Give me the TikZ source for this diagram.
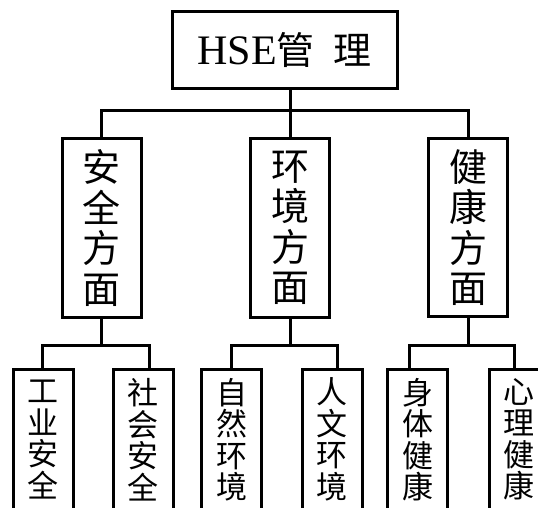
\documentclass[tikz,border=0pt]{standalone}
\usepackage{fontspec}
\setmainfont{Liberation Serif}
\newfontfamily\cjk{Noto Sans CJK SC}
\begin{document}
\begin{tikzpicture}[x=1pt,y=-1pt,
  line width=3pt,
  box/.style={draw=black, line width=3pt, rectangle, inner sep=0pt, align=center},
  topbox/.style={box, minimum width=225pt, minimum height=77pt},
  midbox/.style={box, minimum width=79pt, minimum height=178pt, font={\cjk\fontsize{38}{40.5}\selectfont}},
  lowbox/.style={box, minimum width=60pt, minimum height=140pt, font={\cjk\fontsize{31}{31.5}\selectfont}},
  conn/.style={draw=black, line width=3pt}]
\useasboundingbox (0,0) rectangle (538,508);
\clip (0,0) rectangle (538,508);

\node[topbox] (top) at (284.5,50.5) {\fontsize{42}{42}\selectfont HSE{\cjk\fontsize{38}{38}\selectfont 管\hspace{19pt}理}};

\node[midbox] (m1) at (101.5,228) {安\\全\\方\\面};
\node[midbox] (m2) at (290,228) {环\\境\\方\\面};
\node[midbox] (m3) at (468,227.5) {健\\康\\方\\面};

\node[lowbox] (a) at (43,439.5) {工\\业\\安\\全};
\node[lowbox] (b) at (143,439.5) {社\\会\\安\\全};
\node[lowbox] (c) at (231.5,439.5) {自\\然\\环\\境};
\node[lowbox] (d) at (332,439.5) {人\\文\\环\\境};
\node[lowbox] (e) at (417.5,439.5) {身\\体\\健\\康};
\node[lowbox] (f) at (519,439.5) {心\\理\\健\\康};

\coordinate (j0) at (290,111);
\draw[conn] (top.south -| j0) -- (m2.north);
\draw[conn] (m1.north) |- (j0) -| (m3.north);

\coordinate (a1) at (42,345.5);
\coordinate (b1) at (149,345.5);
\coordinate (c1) at (231,345.5);
\coordinate (d1) at (337,345.5);
\coordinate (e1) at (409,345.5);
\coordinate (f1) at (514,345.5);

\draw[conn] (m1.south) -- (m1.south |- a1);
\draw[conn] (a1 |- a.north) -- (a1) -- (b1) -- (b1 |- b.north);
\draw[conn] (m2.south) -- (m2.south |- c1);
\draw[conn] (c1 |- c.north) -- (c1) -- (d1) -- (d1 |- d.north);
\draw[conn] (m3.south) -- (m3.south |- e1);
\draw[conn] (e1 |- e.north) -- (e1) -- (f1) -- (f1 |- f.north);
\end{tikzpicture}
\end{document}
